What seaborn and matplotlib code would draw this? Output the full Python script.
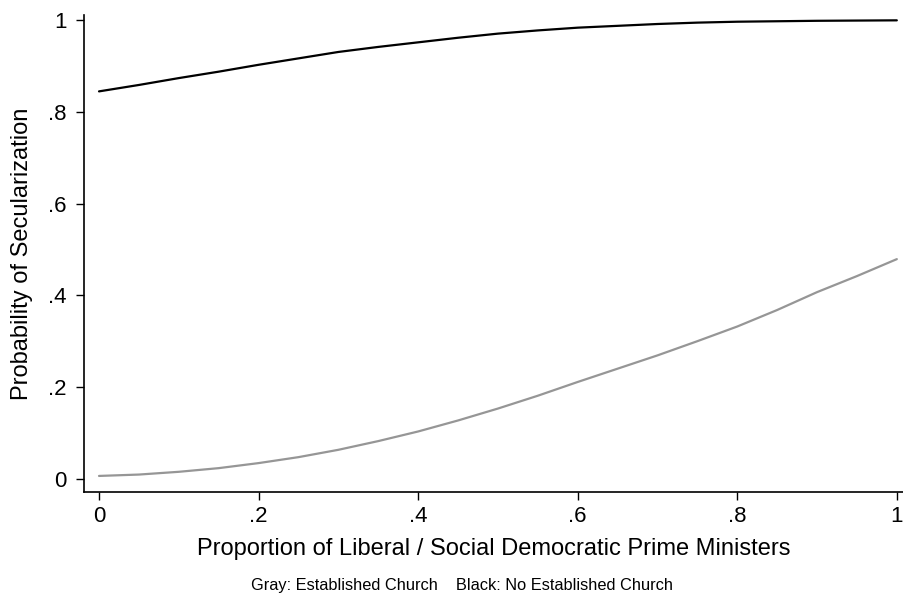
import numpy as np
import pandas as pd
import seaborn as sns
import matplotlib.pyplot as plt

# Valores (probabilidad predicha)
proporcion = [0.0, 0.05, 0.1, 0.15, 0.2, 0.25, 0.3, 0.35, 0.4, 0.45, 0.5,
              0.55, 0.6, 0.65, 0.7, 0.75, 0.8, 0.85, 0.9, 0.95, 1.0]
prob_iglesia = [0.006, 0.009, 0.015, 0.023, 0.034, 0.047, 0.063, 0.082, 0.103, 0.127, 0.153,
                0.181, 0.211, 0.240, 0.269, 0.300, 0.332, 0.368, 0.407, 0.442, 0.479]
prob_sin_iglesia = [0.845, 0.859, 0.874, 0.888, 0.903, 0.917, 0.931, 0.942, 0.952, 0.962, 0.971,
                    0.978, 0.984, 0.988, 0.992, 0.995, 0.997, 0.998, 0.999, 0.9995, 1.0]

x_ticks = [0, 0.2, 0.4, 0.6, 0.8, 1.0]
x_labels = ["0", ".2", ".4", ".6", ".8", "1"]
y_ticks = [0, 0.2, 0.4, 0.6, 0.8, 1.0]
y_labels = ["0", ".2", ".4", ".6", ".8", "1"]

df = pd.DataFrame({
    "x": proporcion * 2,
    "y": prob_iglesia + prob_sin_iglesia,
    "grupo": ["Established Church"] * len(proporcion) + ["No Established Church"] * len(proporcion),
})

sns.set_style("white")
plt.rcParams["font.family"] = ["Liberation Sans", "DejaVu Sans"]
plt.rcParams["text.color"] = "black"
plt.rcParams["axes.labelcolor"] = "black"
plt.rcParams["xtick.color"] = "black"
plt.rcParams["ytick.color"] = "black"

fig = plt.figure(figsize=(9.04, 5.96), dpi=100)
ax = fig.add_axes([0.0933, 0.174, 0.9067, 0.8008])

sns.lineplot(data=df, x="x", y="y", hue="grupo",
             palette={"Established Church": "#969696", "No Established Church": "black"},
             linewidth=1.6, legend=False, ax=ax)

ax.set_xlim(-0.0184, 1.009)
ax.set_ylim(-0.0297, 1.0116)
ax.set_xticks(x_ticks)
ax.set_xticklabels(x_labels)
ax.set_yticks(y_ticks)
ax.set_yticklabels(y_labels)
ax.tick_params(axis="both", bottom=True, left=True, direction="out", length=6,
               width=1, labelsize=16, color="black", labelcolor="black")
ax.tick_params(axis="y", pad=7)
ax.tick_params(axis="x", pad=4)

for lado in ["top", "right"]:
    ax.spines[lado].set_visible(False)
for lado in ["left", "bottom"]:
    ax.spines[lado].set_color("black")
    ax.spines[lado].set_linewidth(1.2)

ax.set_xlabel("Proportion of Liberal / Social Democratic Prime Ministers", fontsize=17, labelpad=8)
ax.set_ylabel("Probability of Secularization", fontsize=17, labelpad=11)

fig.text(0.511, 0.018, "Gray: Established Church    Black: No Established Church",
         ha="center", va="center", fontsize=11.8)

fig.savefig("out.png", dpi=100)
